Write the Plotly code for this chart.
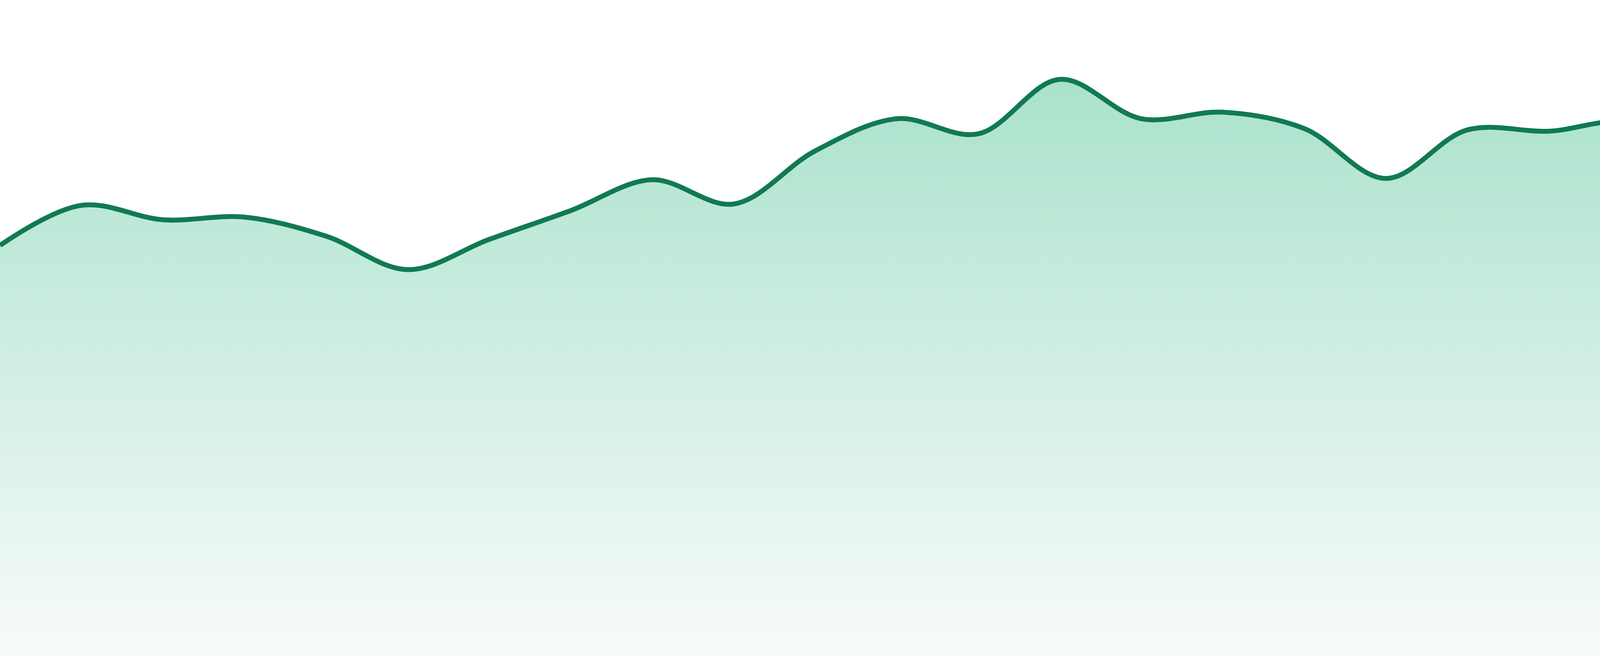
import plotly.graph_objects as go

# --- Data (one point per period) ---
periods = list(range(24))
values = [
    62.6, 68.7, 66.5, 66.9, 64.0, 58.9, 63.5, 67.9,
    72.6, 68.9, 77.0, 81.9, 79.6, 87.9, 81.9, 82.9,
    80.4, 72.8, 80.2, 80.0, 81.3, 74.2, 69.8, 67.7,
]

# --- Style ---
LINE_COLOR = '#117a52'
FILL_TOP = '#aae2cc'
FILL_BOTTOM = '#f8fbfa'

fig = go.Figure()
fig.add_trace(go.Scatter(
    x=periods,
    y=values,
    mode='lines',
    line=dict(color=LINE_COLOR, width=12.5, shape='spline', smoothing=1),
    fill='tozeroy',
    fillgradient=dict(
        type='vertical',
        start=0,
        stop=max(values),
        colorscale=[[0, FILL_BOTTOM], [1, FILL_TOP]],
    ),
    hoverinfo='skip',
    showlegend=False,
))

fig.update_layout(
    width=4800,
    height=1680,
    margin=dict(l=0, r=0, t=0, b=0),
    paper_bgcolor='white',
    plot_bgcolor='white',
    xaxis=dict(range=[0, len(periods) - 1], visible=False, fixedrange=True),
    yaxis=dict(range=[0, 100], visible=False, fixedrange=True),
)

# drop the default page margin so the chart sits flush in the window
fig.write_html(
    "out.html",
    config={'displayModeBar': False},
    post_script="document.body.style.margin='0';document.body.style.overflow='hidden';",
)
